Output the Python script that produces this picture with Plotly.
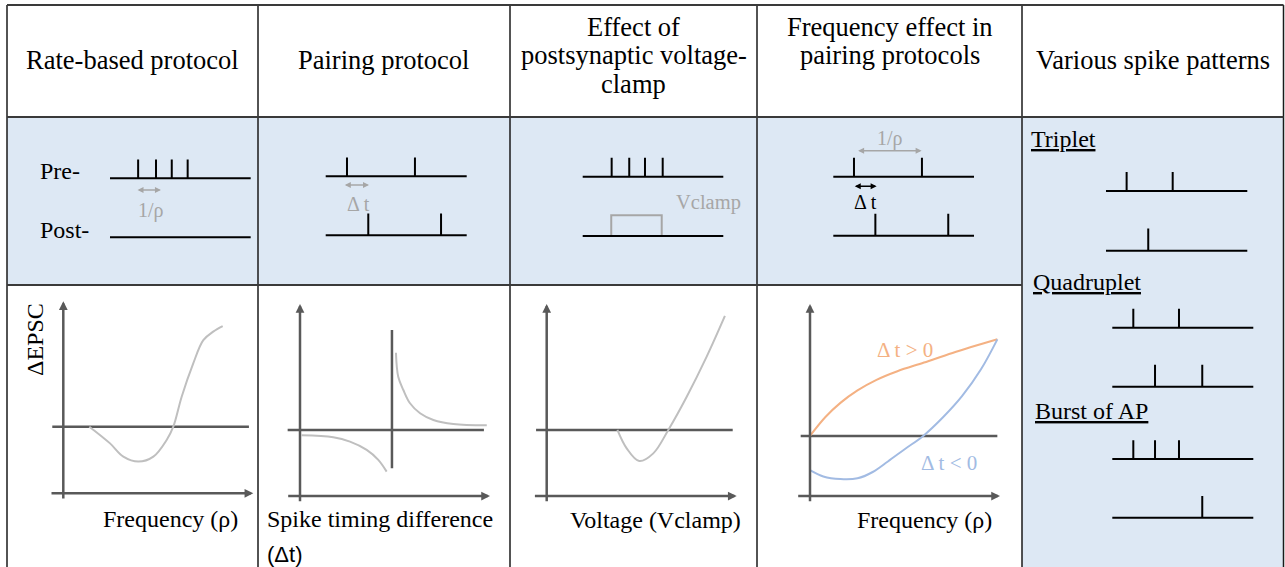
import plotly.graph_objects as go

W, H = 1285, 567

# ================= DATA =================
col_titles = [["Rate-based protocol"], ["Pairing protocol"],
              ["Effect of", "postsynaptic voltage-", "clamp"],
              ["Frequency effect in", "pairing protocols"],
              ["Various spike patterns"]]

# Protocol row: spike times along a 0-10 time line
rate_pre = [2.0, 3.27, 4.39, 5.52]
rate_post = []
pair_pre = [1.51, 6.33]
pair_post = [3.02, 8.18]
clamp_pre = [2.06, 3.31, 4.43, 5.69]
clamp_post = []
clamp_step = [2.03, 5.62]
freq_pre = [1.47, 6.30]
freq_post = [2.99, 8.17]

pattern_names = ["Triplet", "Quadruplet", "Burst of AP"]
pattern_pre = [[1.46, 4.72], [1.49, 4.73], [1.49, 3.03, 4.73]]
pattern_post = [[2.99], [3.03, 6.38], [6.38]]

rate_period = [1.85, 3.62]
pair_dt = [1.25, 3.07]
freq_period = [1.66, 6.28]
freq_dt = [1.42, 3.08]

# Outcome row (axis units, 0-10 on each axis)
rate_x = [1.37, 2.46, 3.16, 3.95, 4.74, 5.44, 5.79, 6.23, 6.84, 7.37, 7.89, 8.39]
rate_y = [3.47, 2.60, 1.91, 1.65, 1.91, 2.78, 3.47, 5.03, 6.77, 7.98, 8.42, 8.71]
stdp_dt0 = 4.84
stdp_dt0_span = [1.44, 8.65]
stdp_neg_x = [0.09, 1.75, 2.63, 3.51, 4.12, 4.56]
stdp_neg_y = [3.16, 3.06, 2.83, 2.40, 1.88, 1.27]
stdp_pos_x = [5.05, 5.17, 5.44, 5.79, 6.32, 7.02, 8.07, 9.83]
stdp_pos_y = [7.46, 6.21, 5.52, 4.83, 4.31, 3.96, 3.75, 3.68]
vclamp_x = [3.72, 4.21, 4.87, 5.61, 6.40, 7.37, 8.42, 9.38]
vclamp_y = [3.44, 2.48, 1.82, 2.22, 3.44, 5.17, 7.26, 9.38]
fpos_x = [0, 0.8, 1.6, 2.5, 3.5, 4.6, 6.0, 7.5, 9.86]
fpos_y = [3.13, 4.10, 4.85, 5.50, 6.05, 6.50, 6.95, 7.45, 8.16]
fneg_x = [0, 0.7, 1.6, 2.5, 3.3, 4.1, 5.0, 5.96, 7.0, 8.0, 9.0, 9.86]
fneg_y = [1.35, 1.02, 0.88, 0.92, 1.25, 1.80, 2.45, 3.13, 4.10, 5.20, 6.60, 8.16]
zero_level = [3.47, 3.44, 3.44, 3.13]
zero_span = [[-0.58, 9.77], [-0.65, 9.68], [-0.56, 9.79], [-0.49, 9.86]]
xlabels = ["Frequency (ρ)", "Spike timing difference", "Voltage (Vclamp)", "Frequency (ρ)"]

# ================= STYLE / GEOMETRY =================
SERIF = "Liberation Serif"
SANS = "Liberation Sans"
BLUE_BG = "#dde8f4"
AX_COL = "#595959"
CURVE_GRAY = "#bfbfbf"
LABEL_GRAY = "#a6a6a6"
ORANGE = "#f4b183"
LBLUE = "#a2bbe3"
PRE_H, POST_H = 0.32, 0.37
HEAD_SIZE = 26.5

fig = go.Figure()
layout = dict(width=W, height=H, margin=dict(l=0, r=0, t=0, b=0),
              paper_bgcolor="white", plot_bgcolor="rgba(0,0,0,0)",
              showlegend=False, shapes=[], annotations=[])


def ax_names(n):
    return ("x" if n == 1 else f"x{n}"), ("y" if n == 1 else f"y{n}")


def set_axes(n, xr, yr, dx, dy):
    xk = "xaxis" if n == 1 else f"xaxis{n}"
    yk = "yaxis" if n == 1 else f"yaxis{n}"
    xa, ya = ax_names(n)
    layout[xk] = dict(domain=dx, range=xr, visible=False, fixedrange=True,
                      anchor=ya, showgrid=False, zeroline=False)
    layout[yk] = dict(domain=dy, range=yr, visible=False, fixedrange=True,
                      anchor=xa, showgrid=False, zeroline=False)


def train_axes(n, x0, x1, ypre, ypost):
    sx = (x1 - x0) / 10.0
    sy = ypost - ypre
    xr, yr = [-1.5, 11.5], [-0.5, 2.0]
    dx = [(x0 + xr[0] * sx) / W, (x0 + xr[1] * sx) / W]
    top_px, bot_px = ypost - yr[1] * sy, ypost - yr[0] * sy
    dy = [1 - bot_px / H, 1 - top_px / H]
    set_axes(n, xr, yr, dx, dy)


def plot_axes(n, ox, oy, sx=19.0, sy=19.2):
    xr, yr = [-1.2, 10.6], [-0.8, 10.4]
    dx = [(ox + xr[0] * sx) / W, (ox + xr[1] * sx) / W]
    top_px, bot_px = oy - yr[1] * sy, oy - yr[0] * sy
    dy = [1 - bot_px / H, 1 - top_px / H]
    set_axes(n, xr, yr, dx, dy)


def line(n, xs, ys, color, width, shape="linear"):
    xa, ya = ax_names(n)
    fig.add_trace(go.Scatter(x=xs, y=ys, xaxis=xa, yaxis=ya, mode="lines",
                             line=dict(color=color, width=width, shape=shape,
                                       smoothing=1.0 if shape == "spline" else None),
                             hoverinfo="skip"))


def train(n, spikes, level, h):
    xs, ys = [0, 10, None], [level, level, None]
    for t in spikes:
        xs += [t, t, None]
        ys += [level, level + h, None]
    line(n, xs, ys, "black", 2)


def arrow(n, x0, x1, y, color, width=1.5, size=0.8, both=True):
    xa, ya = ax_names(n)
    layout["annotations"].append(dict(
        x=x1, y=y, ax=x0, ay=y, xref=xa, yref=ya, axref=xa, ayref=ya,
        text="", showarrow=True, arrowhead=2, startarrowhead=2,
        arrowside="end+start" if both else "end", arrowsize=size,
        startarrowsize=size, arrowwidth=width, arrowcolor=color,
        standoff=0, startstandoff=0))


def data_text(n, text, x, y, size, color, family=SERIF):
    xa, ya = ax_names(n)
    layout["annotations"].append(dict(
        x=x, y=y, xref=xa, yref=ya, text=text, showarrow=False,
        xanchor="center", yanchor="middle",
        font=dict(family=family, size=size, color=color)))


def ptext(text, xpx, ypx, size, color="black", xanchor="center",
          family=SERIF, angle=0):
    if xanchor == "left":
        xpx -= 3
    elif xanchor == "right":
        xpx += 2
    layout["annotations"].append(dict(
        x=xpx / W, y=1 - ypx / H, xref="paper", yref="paper", text=text,
        showarrow=False, xanchor=xanchor, yanchor="middle", textangle=angle,
        font=dict(family=family, size=size, color=color)))


def prect(x0, y0, x1, y1, fill):
    layout["shapes"].append(dict(type="rect", xref="paper", yref="paper",
                                 x0=x0 / W, x1=x1 / W, y0=1 - y1 / H, y1=1 - y0 / H,
                                 fillcolor=fill, line=dict(width=0), layer="below"))


def pline(x0, y0, x1, y1, color, width):
    layout["shapes"].append(dict(type="line", xref="paper", yref="paper",
                                 x0=x0 / W, x1=x1 / W, y0=1 - y0 / H, y1=1 - y1 / H,
                                 line=dict(color=color, width=width), layer="above"))


# ---------- table ----------
XL, XR = 7, 1283.5
COLS = [XL, 258, 510, 757, 1022, XR]
YT, Y1, Y2, YB = 5, 117, 285, 570
prect(XL, Y1, 1022, Y2, BLUE_BG)
prect(1022, Y1, XR, YB, BLUE_BG)
for cx in COLS:
    pline(cx, YT, cx, YB, "#1a1a1a", 1.5)
pline(XL, YT, XR, YT, "#3a3a3a", 2)
pline(XL, Y1, XR, Y1, "#3a3a3a", 2)
pline(XL, Y2, 1022, Y2, "#3a3a3a", 2)

# ---------- headers ----------
header_rows = [26.6, 54.6, 84.0]
for i, lines in enumerate(col_titles):
    cx = (COLS[i] + COLS[i + 1]) / 2
    ys = [60] if len(lines) == 1 else header_rows[:len(lines)]
    for txt, yy in zip(lines, ys):
        ptext(txt, cx, yy, HEAD_SIZE)

# ---------- protocol row ----------
train_axes(1, 110, 250.7, 178.3, 237.3)
train(1, rate_pre, 1, PRE_H)
train(1, rate_post, 0, POST_H)
arrow(1, rate_period[0], rate_period[1], 0.80, LABEL_GRAY)
data_text(1, "1/ρ", 2.89, 0.45, 20, LABEL_GRAY)
ptext("Pre-", 40.7, 171.3, 24, xanchor="left")
ptext("Post-", 40.7, 229.7, 24, xanchor="left")

train_axes(2, 325.7, 466.7, 176.3, 235.3)
train(2, pair_pre, 1, PRE_H)
train(2, pair_post, 0, POST_H)
arrow(2, pair_dt[0], pair_dt[1], 0.853, LABEL_GRAY)
data_text(2, "Δ t", 2.31, 0.53, 20, LABEL_GRAY)

train_axes(3, 582.7, 723.3, 176.7, 236.0)
line(3, [clamp_step[0], clamp_step[0], clamp_step[1], clamp_step[1]],
     [0, 0.35, 0.35, 0], "#a6a6a6", 2)
train(3, clamp_pre, 1, PRE_H)
train(3, clamp_post, 0, POST_H)
data_text(3, "Vclamp", 8.97, 0.56, 20.5, LABEL_GRAY)

train_axes(4, 833.3, 974.0, 176.7, 235.7)
train(4, freq_pre, 1, PRE_H)
train(4, freq_post, 0, POST_H)
arrow(4, freq_period[0], freq_period[1], 1.44, LABEL_GRAY)
data_text(4, "1/ρ", 4.03, 1.64, 20, LABEL_GRAY)
arrow(4, freq_dt[0], freq_dt[1], 0.84, "black")
data_text(4, "Δ t", 2.32, 0.57, 20, "black")

# ---------- spike patterns column ----------
pattern_geom = [(1106, 1247.3, 191.0, 250.7),
                (1112.3, 1253.3, 327.7, 386.7),
                (1112.3, 1253.3, 459.0, 517.7)]
pattern_label_pos = [(1031.7, 139.3), (1034.3, 282.0), (1036.0, 411.0)]
for k in range(3):
    n = 5 + k
    train_axes(n, *pattern_geom[k])
    train(n, pattern_pre[k], 1, PRE_H)
    train(n, pattern_post[k], 0, POST_H)
    lx, ly = pattern_label_pos[k]
    ptext(f"<u>{pattern_names[k]}</u>", lx, ly, 24, xanchor="left")

# ---------- outcome row ----------
origins = [(63.3, 493.3), (300.0, 496.0), (546.7, 496.0), (810.0, 496.0)]
for k, (ox, oy) in enumerate(origins):
    n = 8 + k
    plot_axes(n, ox, oy)
    xa, ya = ax_names(n)
    layout["annotations"].append(dict(x=10, y=0, ax=-0.7, ay=0, xref=xa, yref=ya,
                                      axref=xa, ayref=ya, text="", showarrow=True,
                                      arrowhead=2, arrowsize=0.7, arrowwidth=2.5,
                                      arrowcolor=AX_COL, standoff=0))
    layout["annotations"].append(dict(x=0, y=10, ax=0, ay=-0.35, xref=xa, yref=ya,
                                      axref=xa, ayref=ya, text="", showarrow=True,
                                      arrowhead=2, arrowsize=0.7, arrowwidth=2.5,
                                      arrowcolor=AX_COL, standoff=0))
    line(n, zero_span[k], [zero_level[k], zero_level[k]], AX_COL, 2.5)

line(8, rate_x, rate_y, CURVE_GRAY, 2, "spline")
line(9, [stdp_dt0, stdp_dt0], stdp_dt0_span, AX_COL, 2.5)
line(9, stdp_neg_x, stdp_neg_y, CURVE_GRAY, 2, "spline")
line(9, stdp_pos_x, stdp_pos_y, CURVE_GRAY, 2, "spline")
line(10, vclamp_x, vclamp_y, CURVE_GRAY, 2, "spline")
line(11, fpos_x, fpos_y, ORANGE, 2, "spline")
line(11, fneg_x, fneg_y, LBLUE, 2, "spline")
data_text(11, "Δ t > 0", 5.0, 7.6, 21, ORANGE)
data_text(11, "Δ t < 0", 7.3, 1.7, 21, LBLUE)

ptext("ΔEPSC", 35, 340, 24, angle=-90)
ptext(xlabels[0], 238.3, 518.8, 24, xanchor="right")
ptext(xlabels[1], 268.3, 518.8, 24, xanchor="left")
ptext("(Δt)", 268.3, 554.4, 22, xanchor="left", family=SANS)
ptext(xlabels[2], 655.0, 520.4, 24)
ptext(xlabels[3], 924.7, 520.4, 24)

fig.update_layout(**layout)
fig.write_html("out.html", config={"displayModeBar": False},
               post_script="document.body.style.margin='0';document.body.style.overflow='hidden';")
